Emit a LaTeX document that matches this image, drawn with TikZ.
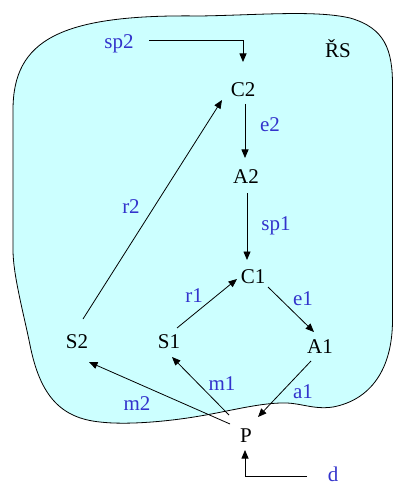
\documentclass[tikz,border=0pt]{standalone}
\usepackage{fontspec}
\setmainfont{Liberation Serif}
\usetikzlibrary{calc,arrows.meta}
\definecolor{blobfill}{RGB}{204,255,255}
\definecolor{lblblue}{RGB}{51,51,204}
\begin{document}
\begin{tikzpicture}[x=1pt,y=-1pt,
  every node/.style={font=\fontsize{21}{25}\selectfont, inner sep=0pt, text height=13.5pt, text depth=0pt, anchor=base},
  var/.style={text=black},
  lbl/.style={text=lblblue},
  conn/.style={line width=0.8pt, -{Triangle[length=8.5pt,width=7pt]}},
  plain/.style={line width=0.8pt}]
\useasboundingbox (0,0) rectangle (394,486);
% blob
\draw[fill=blobfill, line width=0.8pt]
  (13,250) -- (13,110)
  .. controls (13,40) and (60,14) .. (200,16)
  .. controls (260,15) and (315,10) .. (350,18)
  .. controls (385,28) and (392.5,50) .. (392.5,85)
  -- (392.5,320)
  .. controls (392.5,370) and (370,400) .. (333,407)
  .. controls (312,410) and (300,402) .. (280,403)
  .. controls (255,404) and (230,411) .. (200,416)
  .. controls (165,422) and (125,425) .. (100,422)
  .. controls (60,418) and (40,395) .. (30,345)
  .. controls (24,315) and (13,275) .. (13,250) -- cycle;
% nodes
\node[var] (RS) at (338,58) {ŘS};
\node[var] (C2) at (243,97) {C2};
\node[var] (A2) at (246,183) {A2};
\node[var] (C1) at (253,283) {C1};
\node[var] (S2) at (77,348) {S2};
\node[var] (S1) at (169,348) {S1};
\node[var] (A1) at (320,353) {A1};
\node[var] (P) at (246,442) {P};
% labels
\node[lbl] (sp2) at (119,49) {sp2};
\node[lbl] (e2) at (270,132) {e2};
\node[lbl] (sp1) at (276,230) {sp1};
\node[lbl] (r2) at (131,213) {r2};
\node[lbl] (r1) at (194,302) {r1};
\node[lbl] (e1) at (303,305) {e1};
\node[lbl] (m2) at (137,410) {m2};
\node[lbl] (m1) at (222,390) {m1};
\node[lbl] (a1) at (303,398) {a1};
\node[lbl] (d) at (333,481) {d};
% connectors
\draw[conn] ($(sp2)+(30,-2.25)$) -| ($(C2)+(0,-28.25)$);
\draw[conn] ($(C2)+(2,13.75)$) -- ($(A2)+(-1,-18.25)$);
\draw[conn] ($(A2)+(1,16.75)$) -- ($(C1)+(-6,-16.25)$);
\draw[conn] ($(S2)+(6,-22.25)$) -- ($(C2)+(-21,9.75)$);
\draw[conn] ($(S1)+(8,-13.25)$) -- ($(C1)+(-16,2.75)$);
\draw[conn] ($(C1)+(15,10.75)$) -- ($(A1)+(-6,-14.25)$);
\draw[conn] ($(P)+(-16,-11.25)$) -- ($(S2)+(12,20.75)$);
\draw[conn] ($(P)+(-17,-20.25)$) -- ($(S1)+(3,15.75)$);
\draw[conn] ($(A1)+(-9,14.75)$) -- ($(P)+(12,-18.25)$);
\draw[conn] ($(d)+(-26,1.75)$) -| ($(P)+(-1,14.75)$);
\end{tikzpicture}
\end{document}
